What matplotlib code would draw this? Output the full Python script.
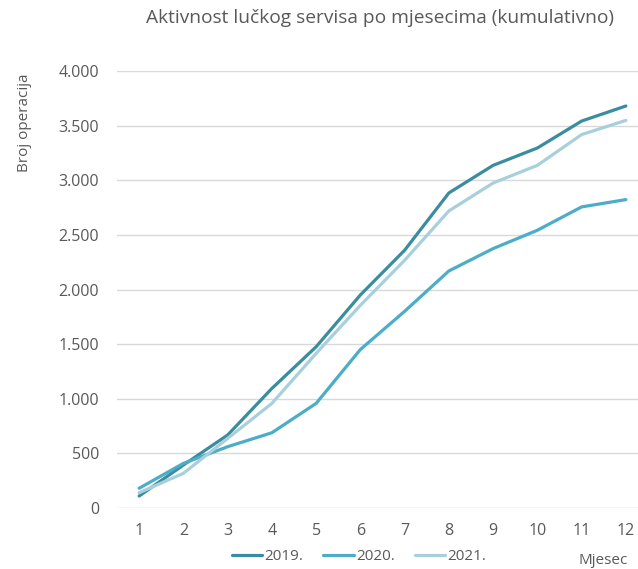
import matplotlib
matplotlib.use("Agg")
import matplotlib.pyplot as plt
from matplotlib.ticker import FuncFormatter

# Podaci (kumulativno po mjesecima)
mjeseci = list(range(1, 13))
god_2019 = [107, 391, 666, 1093, 1475, 1950, 2360, 2885, 3138, 3297, 3544, 3682]
god_2020 = [178, 406, 559, 687, 956, 1450, 1800, 2170, 2375, 2543, 2757, 2824]
god_2021 = [137, 315, 635, 956, 1414, 1855, 2268, 2720, 2976, 3138, 3420, 3550]
oznake = ["2019.", "2020.", "2021."]
boje = ["#3A8D9F", "#4BADC7", "#A7D0DC"]

plt.rcParams["font.family"] = ["Open Sans", "DejaVu Sans"]
siva = "#595959"

fig = plt.figure(figsize=(6.38, 5.69), dpi=100)
ax = fig.add_axes([117 / 638, 1 - 507.7 / 569, 531 / 638, (507.7 - 71.3) / 569])

for vals, lab, c in zip([god_2019, god_2020, god_2021], oznake, boje):
    ax.plot(mjeseci, vals, color=c, lw=2.3, label=lab, solid_capstyle="round")

ax.set_xlim(0.5, 12.5)
ax.set_ylim(0, 4000)
ax.set_xticks(mjeseci)
ax.set_yticks(range(0, 4001, 500))
ax.yaxis.set_major_formatter(FuncFormatter(lambda v, p: f"{int(v):,}".replace(",", ".")))
ax.tick_params(length=0, labelsize=11.5, colors=siva, pad=11)
ax.tick_params(axis="y", pad=13)
ax.grid(axis="y", color="#D9D9D9", lw=1)
ax.set_axisbelow(True)
for s in ax.spines.values():
    s.set_visible(False)

fig.text(380 / 638, 1 - 18 / 569, "Aktivnost lučkog servisa po mjesecima (kumulativno)",
         ha="center", va="center", fontsize=13.8, color=siva)
fig.text(25 / 638, 1 - 123 / 569, "Broj operacija", rotation=90,
         ha="center", va="center", fontsize=11, color=siva)
fig.text(628 / 638, 1 - 560 / 569, "Mjesec", ha="right", va="center",
         fontsize=11, color=siva)

fig.legend(loc="center", bbox_to_anchor=(359 / 638, 1 - 557 / 569), ncol=3,
           frameon=False, fontsize=11, labelcolor=siva, handlelength=2.0,
           handletextpad=0.15, columnspacing=1.3)

fig.savefig("out.png", dpi=100)
